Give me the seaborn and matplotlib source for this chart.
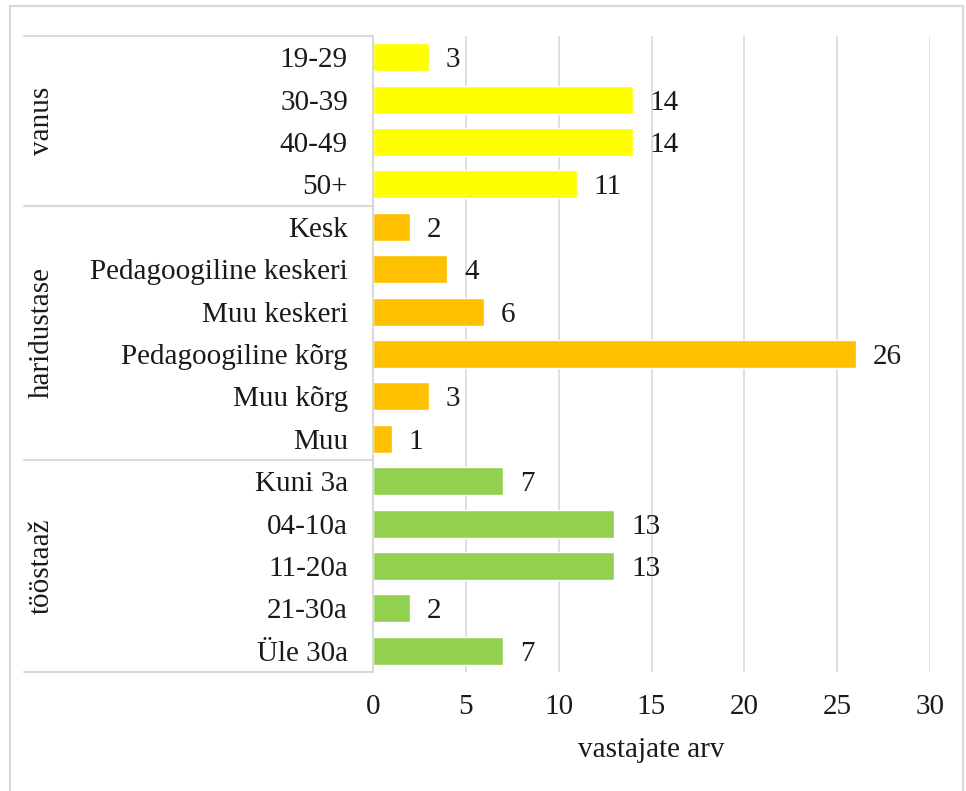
import matplotlib
matplotlib.use("Agg")
import matplotlib.pyplot as plt
import matplotlib.patches as mpatches
from matplotlib.lines import Line2D
import seaborn as sns
import pandas as pd

categories = ["19-29", "30-39", "40-49", "50+",
              "Kesk", "Pedagoogiline keskeri", "Muu keskeri", "Pedagoogiline kõrg", "Muu kõrg", "Muu",
              "Kuni 3a", "04-10a", "11-20a", "21-30a", "Üle 30a"]
values = [3, 14, 14, 11,
          2, 4, 6, 26, 3, 1,
          7, 13, 13, 2, 7]
groups = ["vanus"] * 4 + ["haridustase"] * 6 + ["tööstaaž"] * 5
group_names = ["vanus", "haridustase", "tööstaaž"]
group_colors = {"vanus": "#FFFF00", "haridustase": "#FFC000", "tööstaaž": "#92D050"}
xticks = [0, 5, 10, 15, 20, 25, 30]
xlabel = "vastajate arv"

df = pd.DataFrame({"category": categories, "value": values, "group": groups})

sns.set_theme(style="white")
plt.rcParams["font.family"] = ["Liberation Serif", "DejaVu Serif"]
FS = 21
GRID = "#D9D9D9"
TXT = "#1a1a1a"

fig = plt.figure(figsize=(9.66, 7.91), dpi=100)
W, H = 966, 791
ax = fig.add_axes([373 / W, 1 - 672 / H, (930 - 373) / W, (672 - 36) / H])

sns.barplot(data=df, y="category", x="value", hue="group", palette=group_colors,
            dodge=False, width=0.66, legend=False, ax=ax, orient="h",
            order=categories, hue_order=group_names, saturation=1)

ax.set_xlim(0, 30)
ax.set_ylim(14.5, -0.5)
ax.set_xticks(xticks)
ax.set_xticklabels([str(t) for t in xticks], fontsize=FS, color=TXT)
ax.set_yticks(range(len(categories)))
ax.set_yticklabels(categories, fontsize=FS, color=TXT)
ax.tick_params(axis="y", length=0, pad=18)
ax.tick_params(axis="x", length=0, pad=16)
ax.set_ylabel("")
ax.set_xlabel(xlabel, fontsize=FS, color=TXT, labelpad=12)

ax.xaxis.grid(True, color=GRID, linewidth=1.2)
ax.yaxis.grid(False)
ax.set_axisbelow(True)
for s in ["top", "right", "bottom"]:
    ax.spines[s].set_visible(False)
ax.spines["left"].set_color(GRID)
ax.spines["left"].set_linewidth(1.5)

# value labels
for i, v in enumerate(values):
    ax.annotate(str(v), xy=(v, i), xytext=(12, 0), textcoords="offset points",
                ha="left", va="center_baseline", fontsize=FS, color=TXT)

# group separators and labels
tr = ax.get_yaxis_transform()
x_left = (24 - 373) / (930 - 373)
bounds = [-0.5]
start = 0
centers = []
for g in group_names:
    n = groups.count(g)
    centers.append(start + (n - 1) / 2)
    start += n
    bounds.append(start - 0.5)
for b in bounds:
    ax.add_line(Line2D([x_left, 0], [b, b], transform=tr, color=GRID, lw=1.5, clip_on=False))
x_lab = (42 - 373) / (930 - 373)
for g, c in zip(group_names, centers):
    ax.text(x_lab, c, g, transform=tr, rotation=90, ha="center", va="center",
            fontsize=FS, color=TXT)

# outer frame
fig.patches.append(mpatches.Rectangle((10 / W, -0.01), (963 - 10) / W, 1 - 6 / H + 0.01,
                                      transform=fig.transFigure, fill=False,
                                      edgecolor=GRID, linewidth=1.5))

fig.savefig("out.png", dpi=100)
